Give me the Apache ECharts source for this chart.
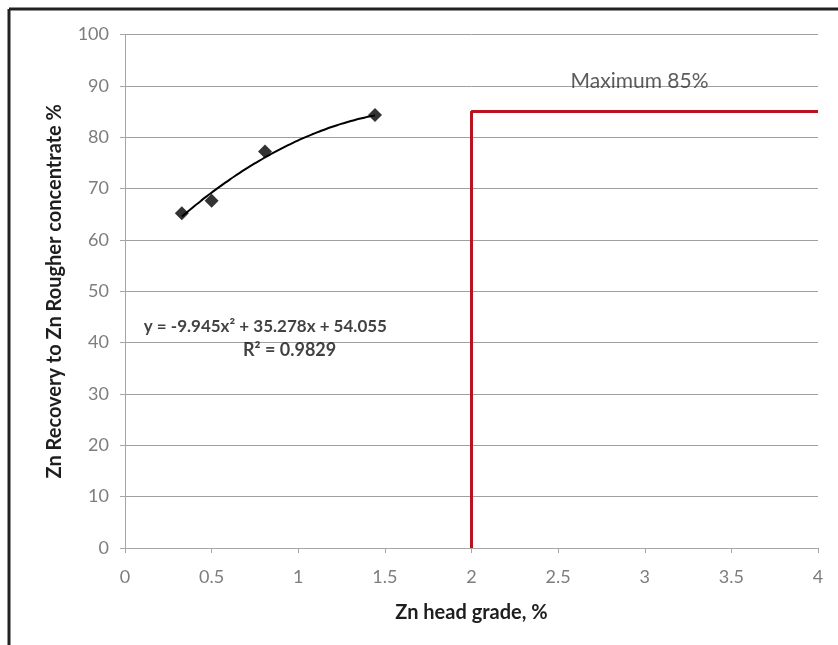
<!DOCTYPE html>
<html>
<head>
<meta charset="utf-8">
<script src="https://cdn.jsdelivr.net/npm/echarts@6/dist/echarts.min.js"></script>
<style>
  html, body { margin: 0; padding: 0; background: #fff; }
  #chart { width: 838px; height: 645px; }
</style>
</head>
<body>
<div id="chart"></div>
<script>
// Zn head grade (%) versus Zn recovery to rougher concentrate (%)
const headGrade = [0.328, 0.50, 0.808, 1.443];
const recovery = [65.2, 67.6, 77.2, 84.3];

// second-order polynomial trendline: y = a*x^2 + b*x + c
const trendCoef = [-9.945, 35.278, 54.055];
const trendRange = [0.328, 1.443];
const trendLabel = ['y = -9.945x² + 35.278x + 54.055', 'R² = 0.9829'];

// design limit
const limitX = [2, 2, 4];
const limitY = [0, 85, 85];
const limitLabel = 'Maximum 85%';

const xTicks = { min: 0, max: 4, interval: 0.5 };
const yTicks = { min: 0, max: 100, interval: 10 };

const trendData = [];
for (let i = 0; i <= 40; i++) {
  const x = trendRange[0] + (trendRange[1] - trendRange[0]) * i / 40;
  trendData.push([x, trendCoef[0] * x * x + trendCoef[1] * x + trendCoef[2]]);
}

const chart = echarts.init(document.getElementById('chart'), null, { renderer: 'canvas' });
const tickFont = { color: '#7d7d7d', fontSize: 18, fontFamily: 'Lato' };
const titleFont = { fontWeight: 'bold', fontSize: 20, color: '#1e1e1e', fontFamily: 'Lato' };

chart.setOption({
  animation: false,
  backgroundColor: '#fff',
  grid: { left: 125, right: 20, top: 34.5, bottom: 97 },
  xAxis: {
    type: 'value', min: xTicks.min, max: xTicks.max, interval: xTicks.interval,
    name: 'Zn head grade, %', nameLocation: 'middle', nameGap: 55,
    nameTextStyle: titleFont,
    axisLine: { lineStyle: { color: '#a6a6a6', width: 1 } },
    axisTick: { show: true, length: 5, lineStyle: { color: '#a6a6a6' } },
    axisLabel: Object.assign({ margin: 20 }, tickFont),
    splitLine: { show: false }
  },
  yAxis: {
    type: 'value', min: yTicks.min, max: yTicks.max, interval: yTicks.interval,
    name: 'Zn Recovery to Zn Rougher concentrate %', nameLocation: 'middle', nameGap: 60,
    nameTextStyle: titleFont,
    axisLine: { show: true, lineStyle: { color: '#a6a6a6', width: 1 } },
    axisTick: { show: true, length: 5, lineStyle: { color: '#a6a6a6' } },
    axisLabel: Object.assign({ margin: 16 }, tickFont),
    splitLine: { lineStyle: { color: '#a0a0a0', width: 1 } }
  },
  series: [
    {
      type: 'line', data: limitX.map((x, i) => [x, limitY[i]]),
      symbol: 'none', lineStyle: { color: '#b8141f', width: 3 }, z: 3
    },
    {
      type: 'line', data: trendData, symbol: 'none', smooth: true,
      lineStyle: { color: '#000', width: 2 }, z: 4
    },
    {
      type: 'scatter', data: headGrade.map((x, i) => [x, recovery[i]]),
      symbol: 'diamond', symbolSize: 14, itemStyle: { color: '#000' }, z: 5
    },
    {
      type: 'scatter', symbolSize: 0, silent: true, z: 6,
      data: [
        { value: [2.97, 90.9], label: { formatter: limitLabel, position: 'inside',
          fontSize: 21, color: '#333', fontFamily: 'Lato' } },
        { value: [0.81, 43.2], label: { formatter: trendLabel[0], position: 'inside',
          fontSize: 17, fontWeight: 'bold', color: '#111', fontFamily: 'Lato' } },
        { value: [0.95, 38.6], label: { formatter: trendLabel[1], position: 'inside',
          fontSize: 18, fontWeight: 'bold', color: '#111', fontFamily: 'Lato' } }
      ],
      label: { show: true }
    }
  ],
  graphic: [
    { type: 'line', shape: { x1: 9, y1: 9, x2: 838, y2: 9 }, style: { stroke: '#222', lineWidth: 3 } },
    { type: 'line', shape: { x1: 9, y1: 9, x2: 9, y2: 645 }, style: { stroke: '#222', lineWidth: 3 } }
  ]
});
</script>
</body>
</html>
